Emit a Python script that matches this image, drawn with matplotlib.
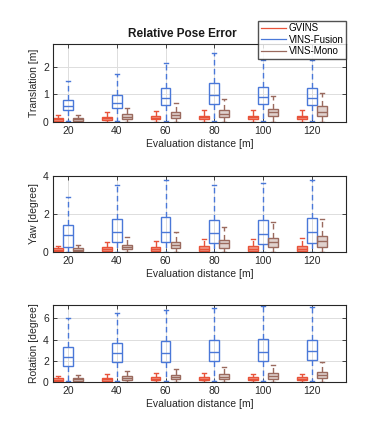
import matplotlib
matplotlib.use("Agg")
import matplotlib.pyplot as plt
from matplotlib.lines import Line2D

# evaluation distances
distances = [20, 40, 60, 80, 100, 120]
methods = ["GVINS", "VINS-Fusion", "VINS-Mono"]
colors = ["#E8533A", "#4A78D8", "#9A6A5E"]

# Translation [m]  (q1, median, q3, upper whisker, lower whisker) per method
trans_gvins_q1 = [0.04, 0.08, 0.10, 0.11, 0.11, 0.11]
trans_gvins_med = [0.10, 0.13, 0.15, 0.17, 0.17, 0.17]
trans_gvins_q3 = [0.15, 0.19, 0.21, 0.23, 0.23, 0.23]
trans_gvins_hi = [0.25, 0.35, 0.40, 0.42, 0.42, 0.42]
trans_gvins_lo = [0.0, 0.0, 0.0, 0.0, 0.0, 0.0]

trans_fus_q1 = [0.42, 0.50, 0.60, 0.65, 0.65, 0.63]
trans_fus_med = [0.57, 0.70, 0.87, 0.98, 0.90, 0.87]
trans_fus_q3 = [0.80, 0.98, 1.23, 1.40, 1.27, 1.23]
trans_fus_hi = [1.47, 1.73, 2.13, 2.50, 2.25, 2.25]
trans_fus_lo = [0.03, 0.03, 0.03, 0.03, 0.03, 0.03]

trans_mono_q1 = [0.05, 0.10, 0.15, 0.18, 0.20, 0.22]
trans_mono_med = [0.10, 0.17, 0.25, 0.30, 0.35, 0.38]
trans_mono_q3 = [0.15, 0.28, 0.37, 0.44, 0.48, 0.58]
trans_mono_hi = [0.27, 0.50, 0.68, 0.82, 0.95, 1.05]
trans_mono_lo = [0.0, 0.0, 0.0, 0.0, 0.0, 0.0]

# Yaw [degree]
yaw_gvins_q1 = [0.03, 0.04, 0.05, 0.06, 0.06, 0.06]
yaw_gvins_med = [0.10, 0.12, 0.14, 0.15, 0.15, 0.16]
yaw_gvins_q3 = [0.18, 0.24, 0.27, 0.29, 0.29, 0.31]
yaw_gvins_hi = [0.30, 0.50, 0.58, 0.65, 0.65, 0.70]
yaw_gvins_lo = [0.0, 0.0, 0.0, 0.0, 0.0, 0.0]

yaw_fus_q1 = [0.23, 0.53, 0.53, 0.48, 0.40, 0.44]
yaw_fus_med = [0.88, 1.06, 1.06, 1.00, 0.94, 1.06]
yaw_fus_q3 = [1.42, 1.72, 1.82, 1.68, 1.68, 1.77]
yaw_fus_hi = [2.88, 3.50, 3.77, 3.50, 3.63, 3.77]
yaw_fus_lo = [0.0, 0.0, 0.0, 0.0, 0.0, 0.0]

yaw_mono_q1 = [0.03, 0.12, 0.18, 0.18, 0.23, 0.27]
yaw_mono_med = [0.10, 0.27, 0.35, 0.44, 0.50, 0.57]
yaw_mono_q3 = [0.20, 0.35, 0.53, 0.62, 0.70, 0.85]
yaw_mono_hi = [0.35, 0.80, 1.05, 1.33, 1.56, 1.73]
yaw_mono_lo = [0.0, 0.0, 0.0, 0.0, 0.0, 0.0]

# Rotation [degree]
rot_gvins_q1 = [0.10, 0.15, 0.17, 0.18, 0.17, 0.17]
rot_gvins_med = [0.22, 0.28, 0.30, 0.31, 0.30, 0.30]
rot_gvins_q3 = [0.36, 0.44, 0.47, 0.48, 0.46, 0.45]
rot_gvins_hi = [0.60, 0.78, 0.90, 0.90, 0.80, 0.78]
rot_gvins_lo = [0.0, 0.0, 0.0, 0.0, 0.0, 0.0]

rot_fus_q1 = [1.56, 1.88, 1.94, 2.00, 2.00, 2.06]
rot_fus_med = [2.34, 2.72, 2.78, 2.88, 2.88, 2.97]
rot_fus_q3 = [3.34, 3.72, 3.84, 3.97, 4.10, 3.97]
rot_fus_hi = [6.06, 6.47, 6.78, 6.94, 7.20, 7.10]
rot_fus_lo = [0.15, 0.15, 0.15, 0.15, 0.15, 0.15]

rot_mono_q1 = [0.16, 0.22, 0.28, 0.31, 0.34, 0.38]
rot_mono_med = [0.28, 0.38, 0.47, 0.53, 0.60, 0.69]
rot_mono_q3 = [0.38, 0.56, 0.66, 0.78, 0.84, 1.00]
rot_mono_hi = [0.69, 1.06, 1.22, 1.40, 1.60, 1.88]
rot_mono_lo = [0.0, 0.0, 0.0, 0.0, 0.0, 0.0]

panels = [
    ("Translation [m]", [0, 2.83], [0, 1, 2],
     [(trans_gvins_q1, trans_gvins_med, trans_gvins_q3, trans_gvins_hi, trans_gvins_lo),
      (trans_fus_q1, trans_fus_med, trans_fus_q3, trans_fus_hi, trans_fus_lo),
      (trans_mono_q1, trans_mono_med, trans_mono_q3, trans_mono_hi, trans_mono_lo)]),
    ("Yaw [degree]", [0, 4], [0, 2, 4],
     [(yaw_gvins_q1, yaw_gvins_med, yaw_gvins_q3, yaw_gvins_hi, yaw_gvins_lo),
      (yaw_fus_q1, yaw_fus_med, yaw_fus_q3, yaw_fus_hi, yaw_fus_lo),
      (yaw_mono_q1, yaw_mono_med, yaw_mono_q3, yaw_mono_hi, yaw_mono_lo)]),
    ("Rotation [degree]", [0, 7.28], [0, 2, 4, 6],
     [(rot_gvins_q1, rot_gvins_med, rot_gvins_q3, rot_gvins_hi, rot_gvins_lo),
      (rot_fus_q1, rot_fus_med, rot_fus_q3, rot_fus_hi, rot_fus_lo),
      (rot_mono_q1, rot_mono_med, rot_mono_q3, rot_mono_hi, rot_mono_lo)]),
]

plt.rcParams["font.family"] = ["Liberation Sans", "DejaVu Sans"]

fig = plt.figure(figsize=(3.69, 4.25), dpi=100)
rects = [
    [0.1436, 0.713, 0.794, 0.1835],
    [0.1436, 0.4078, 0.794, 0.178],
    [0.1436, 0.1005, 0.794, 0.1826],
]
offsets = [-0.205, 0.0, 0.205]
fills = [0.6, 0.0, 0.3]

for rect, (ylabel, ylim, yticks, series) in zip(rects, panels):
    ax = fig.add_axes(rect)
    ax.set_axisbelow(True)
    ax.grid(True, color="#DDDDDD", lw=0.7)
    for k, (q1, med, q3, hi, lo) in enumerate(series):
        stats = []
        for i in range(len(distances)):
            stats.append(dict(q1=q1[i], med=med[i], q3=q3[i],
                              whishi=hi[i], whislo=lo[i], fliers=[]))
        pos = [i + 1 + offsets[k] for i in range(len(distances))]
        c = colors[k]
        ax.bxp(stats, positions=pos, widths=0.2, showfliers=False,
               patch_artist=True,
               boxprops=dict(edgecolor=c, facecolor=(1, 1, 1, 0) if fills[k] == 0
                             else matplotlib.colors.to_rgba(c, fills[k]), lw=1.0),
               medianprops=dict(color=c, lw=1.0),
               whiskerprops=dict(color=c, lw=1.0, ls=(0, (4, 2.5))),
               capprops=dict(color=c, lw=1.0),
               capwidths=0.08)
    ax.set_xlim(0.69, 6.70)
    ax.set_ylim(*ylim)
    ax.set_yticks(yticks)
    ax.set_xticks(range(1, len(distances) + 1))
    ax.set_xticklabels([str(d) for d in distances])
    ax.tick_params(direction="in", length=3, width=0.6, labelsize=7.5,
                   top=True, right=True, pad=3, colors="#262626")
    for s in ax.spines.values():
        s.set_color("#262626")
        s.set_linewidth(0.8)
    ax.set_ylabel(ylabel, fontsize=7.5, labelpad=3, color="#262626")
    ax.set_xlabel("Evaluation distance [m]", fontsize=7.5, labelpad=2,
                  color="#262626")

fig.text(0.493, 0.92, "Relative Pose Error", ha="center", va="center",
         fontsize=8.5, fontweight="bold", color="#1a1a1a")

handles = [Line2D([0], [0], color=c, lw=0.9) for c in colors]
fig.legend(handles, methods, loc="upper right",
           bbox_to_anchor=(346 / 369, 1 - 21 / 425), fontsize=7,
           frameon=True, fancybox=False, edgecolor="#262626",
           handlelength=2.6, handletextpad=0.3, borderpad=0.25,
           labelspacing=0.15, borderaxespad=0.0)

fig.savefig("out.png", dpi=100)
